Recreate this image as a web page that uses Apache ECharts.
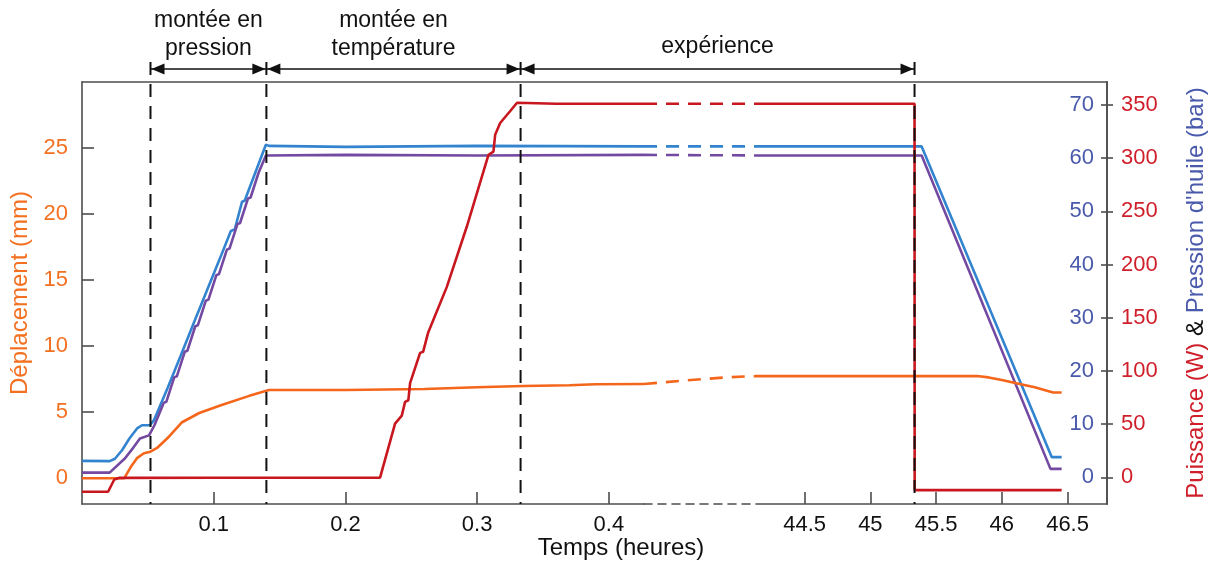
<!DOCTYPE html>
<html><head><meta charset="utf-8">
<script src="https://cdn.jsdelivr.net/npm/echarts@6/dist/echarts.min.js"></script>
<style>html,body{margin:0;padding:0;background:#fff}#c{width:1211px;height:561px}</style>
</head><body><div id="c"></div>
<script>
// ---------- DATA (time in hours) ----------
// Displacement (mm)
const dispLeft = [[0,-0.05],[0.032,-0.05],[0.037,0.8],[0.042,1.5],[0.047,1.85],[0.052,1.97],[0.057,2.25],[0.066,3.1],[0.076,4.2],[0.089,4.9],[0.106,5.5],[0.127,6.2],[0.142,6.65],[0.2,6.65],[0.26,6.72],[0.3,6.85],[0.335,6.95],[0.37,7.0],[0.39,7.08],[0.4267,7.1]];
const dispGap = [[0.4267,7.1],[15.6,7.35],[32.4,7.6],[44.13,7.7]];
const dispRight = [[44.13,7.7],[45.81,7.7],[45.9,7.6],[46.0,7.4],[46.11,7.15],[46.25,6.85],[46.39,6.45],[46.455,6.45]];
// Oil pressure, sensor 1 (bar, blue)
const presBlueLeft = [[0,3.1],[0.021,3.05],[0.025,3.5],[0.0304,5.1],[0.036,7.3],[0.0418,9.2],[0.0456,9.8],[0.0516,9.8],[0.0547,10.8],[0.065,16.8],[0.075,22.9],[0.085,29.1],[0.095,35.2],[0.105,41.3],[0.113,46.3],[0.116,46.6],[0.1215,51.8],[0.1235,52.0],[0.1396,62.5],[0.142,62.3],[0.2,62.1],[0.3,62.3],[0.4267,62.2]];
const presBlueGap = [[0.4267,62.2],[44.13,62.2]];
const presBlueRight = [[44.13,62.2],[45.39,62.2],[46.38,3.8],[46.455,3.8]];
// Oil pressure, sensor 2 (bar, purple)
const presPurpleLeft = [[0,0.9],[0.021,0.9],[0.0327,3.6],[0.039,5.6],[0.044,7.3],[0.0509,7.9],[0.055,9.8],[0.062,14.0],[0.064,14.2],[0.070,18.8],[0.072,19.0],[0.078,23.6],[0.080,23.8],[0.086,28.4],[0.088,28.6],[0.094,33.2],[0.096,33.4],[0.102,38.0],[0.104,38.2],[0.110,42.8],[0.112,43.0],[0.118,47.6],[0.120,47.8],[0.126,52.4],[0.128,52.6],[0.134,57.2],[0.1396,60.5],[0.2,60.6],[0.3,60.5],[0.4267,60.6]];
const presPurpleGap = [[0.4267,60.6],[44.13,60.5]];
const presPurpleRight = [[44.13,60.5],[45.39,60.5],[46.37,1.6],[46.455,1.6]];
// Power (W)
const powLeft = [[0,-13.5],[0.0198,-13.5],[0.0245,-2],[0.028,-0.5],[0.1,-0.3],[0.2263,-0.3],[0.2377,50.5],[0.2428,58],[0.2453,71],[0.2478,72.5],[0.2491,88.5],[0.2567,117],[0.259,118],[0.2627,135.6],[0.277,179],[0.2922,235.7],[0.3086,303],[0.3124,306],[0.3137,322],[0.3175,333],[0.325,344],[0.3303,352],[0.36,351],[0.4267,351]];
const powGap = [[0.4267,351],[44.13,351]];
const powRight = [[44.13,351],[45.336,351],[45.337,-12],[46.455,-12]];

// Phase boundaries and labels
const phaseBounds = [0.052, 0.140, 0.333, 45.336];
const phaseLabels = [['montée en','pression'],['montée en','température'],['expérience']];

// Ticks
const xTicksLeft = [0.1,0.2,0.3,0.4];
const xTicksRight = [44.5,45,45.5,46,46.5];
const dispTicks = [0,5,10,15,20,25];
const presTicks = [0,10,20,30,40,50,60,70];
const powTicks = [0,50,100,150,200,250,300,350];

// Axis ranges
const leftSeg = [0, 0.4267], gapSeg = [0.4267, 44.13], rightSeg = [44.13, 46.8];
const dispRange = [-2, 30], presRange = [-5, 74.3], powRange = [-25, 371.5];

// ---------- STYLE ----------
const FONT = "'Liberation Sans', Arial, sans-serif";
const C_OR = '#F4661B', C_OR_T = '#F37021';
const C_BL = '#3384CF', C_PU = '#7449A1';
const C_RD = '#C8171F', C_RD_T = '#CF1F2B', C_BL_T = '#4A5AAB';
const AX = '#4d4d4d';
const TOP = 82, HEIGHT = 422;

const grids = [
  {left: 82, top: TOP, width: 1025, height: HEIGHT, outerBoundsMode: 'none', containLabel: false},
  {left: 82, top: TOP, width: 562, height: HEIGHT, outerBoundsMode: 'none', containLabel: false},
  {left: 644, top: TOP, width: 112, height: HEIGHT, outerBoundsMode: 'none', containLabel: false},
  {left: 756, top: TOP, width: 351, height: HEIGHT, outerBoundsMode: 'none', containLabel: false}
];

const axLine = {show: true, onZero: false, lineStyle: {color: AX, width: 1.6}};
const xAxes = [
  {gridIndex: 0, type: 'value', position: 'top', min: 0, max: 1, axisLine: axLine, axisTick: {show: false}, axisLabel: {show: false}, splitLine: {show: false}},
  {gridIndex: 1, type: 'value', position: 'bottom', min: leftSeg[0], max: leftSeg[1], axisLine: axLine,
   axisTick: {inside: true, length: 12, customValues: xTicksLeft, lineStyle: {color: AX, width: 1.6}},
   axisLabel: {customValues: xTicksLeft, margin: 10, fontSize: 22, color: '#111', fontFamily: FONT}, splitLine: {show: false}},
  {gridIndex: 2, type: 'value', position: 'bottom', min: gapSeg[0], max: gapSeg[1],
   axisLine: {show: true, onZero: false, lineStyle: {color: AX, width: 1.6, type: [8, 6]}}, axisTick: {show: false}, axisLabel: {show: false}, splitLine: {show: false}},
  {gridIndex: 3, type: 'value', position: 'bottom', min: rightSeg[0], max: rightSeg[1], axisLine: axLine,
   axisTick: {inside: true, length: 12, customValues: xTicksRight, lineStyle: {color: AX, width: 1.6}},
   axisLabel: {customValues: xTicksRight, margin: 10, fontSize: 22, color: '#111', fontFamily: FONT}, splitLine: {show: false}}
];

const yAxes = [
  {gridIndex: 0, type: 'value', position: 'left', min: dispRange[0], max: dispRange[1], axisLine: axLine,
   axisTick: {inside: true, length: 12, customValues: dispTicks, lineStyle: {color: AX, width: 1.6}},
   axisLabel: {customValues: dispTicks, margin: 14, fontSize: 22, color: C_OR_T, fontFamily: FONT},
   splitLine: {show: false},
   name: 'Déplacement (mm)', nameLocation: 'middle', nameRotate: 90, nameGap: 42,
   nameTextStyle: {fontSize: 24, color: C_OR_T, fontFamily: FONT}},
  {gridIndex: 0, type: 'value', position: 'right', min: presRange[0], max: presRange[1], axisLine: axLine,
   axisTick: {inside: true, length: 6, customValues: presTicks, lineStyle: {color: AX, width: 1.6}},
   axisLabel: {inside: true, customValues: presTicks, margin: 13, fontSize: 22, color: C_BL_T, fontFamily: FONT},
   splitLine: {show: false}},
  {gridIndex: 0, type: 'value', position: 'right', min: powRange[0], max: powRange[1], axisLine: axLine,
   axisTick: {inside: false, length: 6, customValues: powTicks, lineStyle: {color: AX, width: 1.6}},
   axisLabel: {customValues: powTicks, margin: 14, fontSize: 22, color: C_RD_T, fontFamily: FONT},
   splitLine: {show: false},
   name: "{r|Puissance (W)} {k|&} {b|Pression d'huile (bar)}", nameLocation: 'middle', nameRotate: 90, nameGap: 77,
   nameTextStyle: {fontSize: 24, fontFamily: FONT, rich: {
     r: {color: C_RD_T, fontSize: 24, fontFamily: FONT},
     k: {color: '#111', fontSize: 24, fontFamily: FONT},
     b: {color: C_BL_T, fontSize: 24, fontFamily: FONT}}}}
];
// hidden data axes for the three segment grids
for (let g = 1; g <= 3; g++) {
  [dispRange, presRange, powRange].forEach(r => yAxes.push({gridIndex: g, type: 'value', show: false, min: r[0], max: r[1], axisLine: {onZero: false}, splitLine: {show: false}}));
}

function line(data, g, k, color, dashed) {
  return {type: 'line', data: data, xAxisIndex: g, yAxisIndex: 3 * g + k, showSymbol: false, symbol: 'none',
    silent: true, lineStyle: {color: color, width: 2.6, type: dashed ? [13, 9] : 'solid'}, z: 3};
}
const series = [
  line(presBlueLeft, 1, 1, C_BL), line(presBlueGap, 2, 1, C_BL, true), line(presBlueRight, 3, 1, C_BL),
  line(presPurpleLeft, 1, 1, C_PU), line(presPurpleGap, 2, 1, C_PU, true), line(presPurpleRight, 3, 1, C_PU),
  line(dispLeft, 1, 0, C_OR), line(dispGap, 2, 0, C_OR, true), line(dispRight, 3, 0, C_OR),
  line(powLeft, 1, 2, C_RD), line(powGap, 2, 2, C_RD, true), line(powRight, 3, 2, C_RD)
];

const chart = echarts.init(document.getElementById('c'));
chart.setOption({animation: false, backgroundColor: '#fff', grid: grids, xAxis: xAxes, yAxis: yAxes, series: series});

// ---------- annotations (positions from the library's scales) ----------
function px(t) { return chart.convertToPixel({xAxisIndex: t < 1 ? 1 : 3}, t); }
const yBot = chart.convertToPixel({yAxisIndex: 0}, dispRange[0]);
const ARROW_Y = 69;
const els = [];
phaseBounds.forEach(b => {
  const x = px(b);
  els.push({type: 'line', shape: {x1: x, y1: 62, x2: x, y2: yBot}, style: {stroke: '#111', lineWidth: 2, lineDash: [13, 9]}, z: 10});
});
for (let i = 0; i < phaseLabels.length; i++) {
  const xa = px(phaseBounds[i]), xb = px(phaseBounds[i + 1]);
  els.push({type: 'line', shape: {x1: xa, y1: ARROW_Y, x2: xb, y2: ARROW_Y}, style: {stroke: '#111', lineWidth: 1.5}, z: 10});
  els.push({type: 'polygon', shape: {points: [[xa + 1, ARROW_Y], [xa + 14, ARROW_Y - 5.5], [xa + 14, ARROW_Y + 5.5]]}, style: {fill: '#111'}, z: 10});
  els.push({type: 'polygon', shape: {points: [[xb - 1, ARROW_Y], [xb - 14, ARROW_Y - 5.5], [xb - 14, ARROW_Y + 5.5]]}, style: {fill: '#111'}, z: 10});
  const xm = (xa + xb) / 2;
  const lines = phaseLabels[i];
  lines.forEach((s, j) => {
    const y = lines.length === 2 ? (j === 0 ? 21 : 49) : 47;
    els.push({type: 'text', x: xm, y: y, style: {text: s, font: '23px ' + FONT, fill: '#111', textAlign: 'center', textVerticalAlign: 'middle'}, z: 10});
  });
}
els.push({type: 'text', x: 621, y: 548, style: {text: 'Temps (heures)', font: '24px ' + FONT, fill: '#111', textAlign: 'center', textVerticalAlign: 'middle'}, z: 10});
chart.setOption({graphic: {elements: els}});
</script>
</body></html>
